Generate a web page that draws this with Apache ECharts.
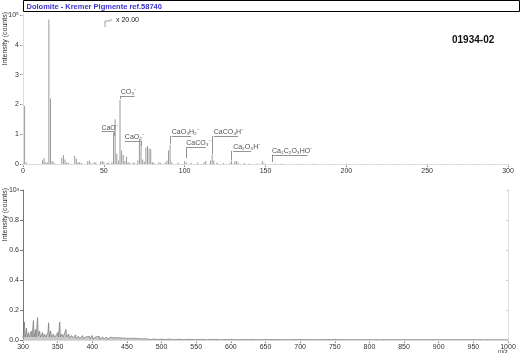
<!DOCTYPE html>
<html>
<head>
<meta charset="utf-8">
<script src="https://cdn.jsdelivr.net/npm/echarts@6/dist/echarts.min.js"></script>
<style>
  html, body { margin: 0; padding: 0; background: #fff; }
  #chart { width: 520px; height: 362px; }
</style>
</head>
<body>
<div id="chart"></div>
<script>
// m/z 0-300, intensity in 10^5 counts
var lowMz = [1, 2, 12, 13, 14, 15, 16, 17, 18, 19, 24, 25, 26, 27, 28, 32, 33, 34, 35, 36,
  40, 41, 42, 44, 45, 48, 49, 50, 52, 53, 55, 56, 57, 58, 59, 60, 61, 62, 63, 64,
  65, 66, 68, 69, 71, 72, 73, 74, 75, 76, 77, 78, 79, 80, 81, 84, 85, 88, 89, 90,
  91, 92, 96, 100, 101, 104, 108, 112, 113, 116, 117, 118, 120, 124, 128, 129, 131, 132, 133, 137,
  140, 145, 148, 149, 156, 160, 172, 180, 200];
var lowInt = [1.95, 0.05, 0.13, 0.2, 0.06, 0.05, 4.85, 2.2, 0.1, 0.05, 0.2, 0.3, 0.15, 0.05, 0.04, 0.28, 0.18, 0.05, 0.06, 0.04,
  0.09, 0.12, 0.04, 0.06, 0.05, 0.08, 0.1, 0.07, 0.04, 0.04, 0.06, 1.05, 1.5, 0.35, 0.12, 2.15, 0.45, 0.3, 0.1, 0.25,
  0.06, 0.04, 0.05, 0.04, 0.12, 0.85, 0.7, 0.15, 0.08, 0.55, 0.6, 0.52, 0.5, 0.06, 0.04, 0.06, 0.04, 0.05, 0.12, 0.45,
  0.65, 0.06, 0.04, 0.1, 0.05, 0.04, 0.05, 0.06, 0.1, 0.12, 0.3, 0.12, 0.05, 0.03, 0.04, 0.12, 0.08, 0.1, 0.05, 0.03,
  0.02, 0.02, 0.1, 0.03, 0.02, 0.015, 0.01, 0.01, 0.01];

// m/z 300-1000, intensity in 10^3 counts
var highMz = [300, 302, 303, 305, 306, 308, 309, 312, 313, 315, 316, 318, 319, 321, 322, 324, 325, 328, 329, 331,
  333, 336, 337, 338, 340, 341, 344, 345, 348, 350, 351, 353, 354, 356, 358, 360, 362, 363, 366, 367,
  370, 372, 376, 377, 380, 382, 386, 387, 390, 392, 396, 397, 400, 401, 405, 407, 410, 411, 415, 417,
  420, 422, 426, 427, 431, 433, 437, 438, 442, 444, 448, 449, 453, 455, 460, 461, 466, 468, 473, 475,
  480, 483, 490, 493, 500, 505, 512, 518, 525, 532, 540, 548, 556, 565, 575, 585, 596, 610, 625, 640,
  660, 680, 700, 720, 745, 770, 800, 850, 900, 950, 1000];
var highInt = [0.01, 0.12, 0.02, 0.08, 0.02, 0.05, 0.02, 0.06, 0.02, 0.13, 0.02, 0.07, 0.02, 0.15, 0.03, 0.06, 0.02, 0.05, 0.02, 0.04,
  0.02, 0.05, 0.115, 0.02, 0.06, 0.02, 0.04, 0.02, 0.03, 0.05, 0.02, 0.12, 0.02, 0.04, 0.02, 0.03, 0.07, 0.02, 0.04, 0.015,
  0.03, 0.015, 0.035, 0.01, 0.025, 0.01, 0.03, 0.01, 0.02, 0.01, 0.025, 0.008, 0.03, 0.008, 0.02, 0.008, 0.025, 0.006, 0.02, 0.006,
  0.02, 0.006, 0.018, 0.005, 0.015, 0.005, 0.015, 0.005, 0.014, 0.005, 0.012, 0.004, 0.01, 0.004, 0.012, 0.004, 0.009, 0.003, 0.008, 0.003,
  0.007, 0.003, 0.007, 0.003, 0.006, 0.003, 0.006, 0.002, 0.005, 0.002, 0.005, 0.002, 0.004, 0.002, 0.004, 0.002, 0.004, 0.002, 0.003, 0.002,
  0.003, 0.002, 0.003, 0.002, 0.003, 0.002, 0.002, 0.002, 0.002, 0.002, 0.002];

// peak annotations (label left edge / centre in data units, bracket line)
var annText = ['CaO⁻', 'CO₃⁻', 'CaO₂⁻', 'CaO₃H₂⁻', 'CaCO₃⁻', 'CaCO₄H⁻', 'Ca₂O₃H⁻', 'Ca₂C₂O₃HO⁻'];
var annX = [48.5, 60.5, 63, 92, 101, 118, 130, 154];
var annY = [1.2, 2.42, 0.9, 1.07, 0.7, 1.07, 0.57, 0.44];
var annLineY = [1.09, 2.29, 0.78, 0.94, 0.56, 0.94, 0.44, 0.31];
var annLineEnd = [56.5, 69, 73, 104, 113, 133, 141, 176];
var annPeak = [56.5, 60, 73, 91, 101, 117, 129, 154];
var annTip = [0.95, 2.18, 0.62, 0.68, 0.2, 0.32, 0.14, 0.06];

var lowData = lowMz.map(function (m, i) { return [m, lowInt[i]]; });
var highData = highMz.map(function (m, i) { return [m, highInt[i]]; });
var annData = annText.map(function (t, i) { return { name: t, value: [annX[i], annY[i]] }; });
var annLines = [];
for (var i = 0; i < annText.length; i++) {
  annLines.push([{ coord: [annX[i], annLineY[i]] }, { coord: [annLineEnd[i], annLineY[i]] }]);
  annLines.push([{ coord: [annPeak[i], annLineY[i]] }, { coord: [annPeak[i], annTip[i]] }]);
}

var font = 'Liberation Sans, Arial, sans-serif';
var axisGray = '#777';
var lblStyle = { fontSize: 7, color: '#333', fontFamily: font };

function valueX(idx, min, max) {
  return {
    type: 'value', gridIndex: idx, min: min, max: max, interval: 50,
    axisLine: { show: true, onZero: false, lineStyle: { color: axisGray, width: 1 } },
    axisTick: { show: true, length: 3, lineStyle: { color: axisGray } },
    axisLabel: Object.assign({ margin: 4, formatter: function (v) { return String(v); } }, lblStyle),
    splitLine: { show: false }
  };
}
function frameX(idx, min, max) {
  return {
    type: 'value', gridIndex: idx, min: min, max: max, position: 'top', interval: 50,
    axisLine: { show: true, lineStyle: { color: '#ddd', width: 1 } },
    axisTick: { show: true, inside: true, length: 2, lineStyle: { color: '#ccc' } },
    minorTick: { show: true, splitNumber: 5, length: 1, lineStyle: { color: '#ccc' } },
    axisLabel: { show: false }, splitLine: { show: false }
  };
}
function frameY(idx, min, max, interval) {
  return {
    type: 'value', gridIndex: idx, min: min, max: max, interval: interval, position: 'right',
    axisLine: { show: true, lineStyle: { color: '#ddd', width: 1 } },
    axisTick: { show: true, inside: true, length: 2, lineStyle: { color: '#ccc' } },
    axisLabel: { show: false }, splitLine: { show: false }
  };
}

var chart = echarts.init(document.getElementById('chart'), null, { renderer: 'canvas' });
chart.setOption({
  animation: false,
  backgroundColor: '#fff',
  grid: [
    { left: 23, top: 15, width: 485, height: 149, outerBoundsMode: 'none', containLabel: false },
    { left: 23, top: 190, width: 485, height: 150, outerBoundsMode: 'none', containLabel: false }
  ],
  xAxis: [
    valueX(0, 0, 300),
    valueX(1, 300, 1000),
    frameX(0, 0, 300),
    frameX(1, 300, 1000)
  ],
  yAxis: [
    {
      type: 'value', gridIndex: 0, min: 0, max: 5, interval: 1,
      axisLine: { show: true, lineStyle: { color: axisGray } },
      axisTick: { show: true, length: 3, lineStyle: { color: axisGray } },
      axisLabel: Object.assign({ margin: 4, hideOverlap: false, formatter: function (v) { return v === 5 ? '10⁵' : String(v); } }, lblStyle),
      splitLine: { show: false }
    },
    {
      type: 'value', gridIndex: 1, min: 0, max: 1, interval: 0.2,
      axisLine: { show: true, lineStyle: { color: axisGray } },
      axisTick: { show: true, length: 3, lineStyle: { color: axisGray } },
      axisLabel: Object.assign({ margin: 4, hideOverlap: false, formatter: function (v) { return v === 1 ? '10³' : v.toFixed(1); } }, lblStyle),
      splitLine: { show: false }
    },
    frameY(0, 0, 5, 1),
    frameY(1, 0, 1, 0.2)
  ],
  series: [
    {
      type: 'bar', xAxisIndex: 0, yAxisIndex: 0, data: lowData,
      barWidth: 1, itemStyle: { color: '#9a9a9a' }, silent: true
    },
    {
      type: 'scatter', xAxisIndex: 0, yAxisIndex: 0, data: annData,
      symbolSize: 0, silent: true,
      label: {
        show: true, position: 'right', distance: 0, formatter: '{b}',
        fontSize: 7, color: '#222', fontFamily: font
      },
      markLine: {
        silent: true, symbol: 'none', animation: false,
        label: { show: false },
        lineStyle: { color: '#777', width: 0.8, type: 'solid' },
        data: annLines
      }
    },
    {
      type: 'line', xAxisIndex: 1, yAxisIndex: 1, data: highData,
      showSymbol: false, silent: true,
      lineStyle: { color: '#666', width: 0.6 },
      areaStyle: { color: '#bbb', opacity: 0.8 }
    }
  ],
  graphic: [
    {
      type: 'group', left: 23, top: 0,
      children: [
        { type: 'rect', shape: { x: 0, y: 0, width: 496, height: 11 }, style: { fill: '#fff', stroke: '#000', lineWidth: 1 } },
        { type: 'text', x: 3, y: 2, style: { text: 'Dolomite - Kremer Pigmente ref.58740', fill: '#3a33d0', font: 'bold 7.5px ' + font } }
      ]
    },
    { type: 'text', x: 5, y: 12, rotation: Math.PI / 2, style: { text: 'Intensity (counts)', fill: '#333', font: '7px ' + font, align: 'right', verticalAlign: 'middle' } },
    { type: 'text', x: 5, y: 188, rotation: Math.PI / 2, style: { text: 'Intensity (counts)', fill: '#333', font: '7px ' + font, align: 'right', verticalAlign: 'middle' } },
    { type: 'text', left: 452, top: 35, style: { text: '01934-02', fill: '#111', font: 'bold 10px ' + font } },
    { type: 'polyline', shape: { points: [[105, 27], [105, 21], [110, 21]] }, style: { stroke: '#888', lineWidth: 0.8, fill: null } },
    { type: 'text', left: 109, top: 17, style: { text: '>', fill: '#888', font: '6px ' + font } },
    { type: 'text', left: 116, top: 17, style: { text: 'x 20.00', fill: '#222', font: '7px ' + font } },
    { type: 'text', left: 498, top: 348, style: { text: 'm/z', fill: '#333', font: '6px ' + font } }
  ]
});
</script>
</body>
</html>
